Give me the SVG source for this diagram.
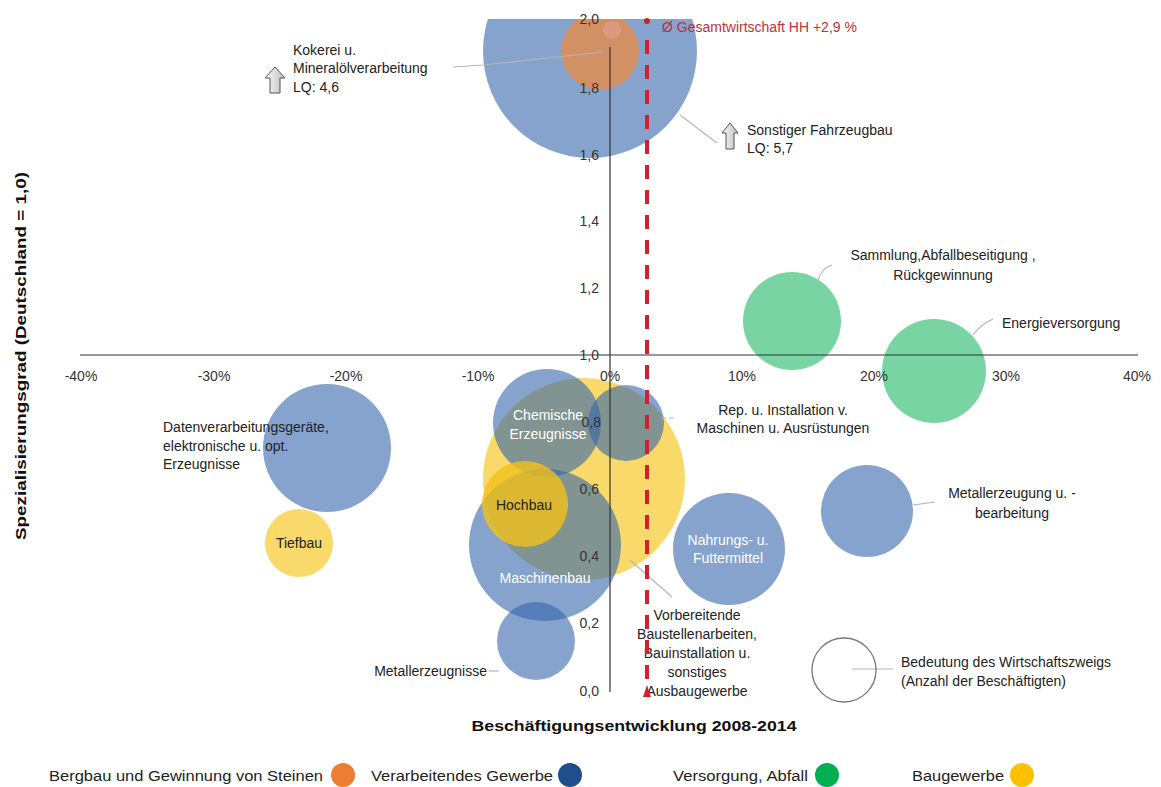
<svg xmlns="http://www.w3.org/2000/svg" width="1161" height="787" viewBox="0 0 1161 787">
  <style>
    text { font-family: "Liberation Sans", Arial, sans-serif; fill: #222; }
    .lbl { font-size: 14px; }
    .tick { font-size: 14px; fill: #333; }
    .in-w { font-size: 14px; fill: #fff; }
    .title { font-size: 15px; font-weight: bold; fill: #111; }
    .blue { fill: #3466ab; fill-opacity: 0.6; }
    .yellow { fill: #f5c518; fill-opacity: 0.65; }
    .gold { fill: #f2c01a; fill-opacity: 0.8; }
    .green { fill: #2fbf71; fill-opacity: 0.65; }
    .orange { fill: #f08a3c; fill-opacity: 0.72; }
    .lead { stroke: #b5b5b5; stroke-width: 1.2; fill: none; }
    .axis { stroke: #333; stroke-width: 1.2; }
    .lq { fill: url(#arrowGrad); stroke: #555; stroke-width: 1; }
  </style>
  <defs>
    <clipPath id="plotClip">
      <rect x="0" y="19" width="1161" height="700"/>
    </clipPath>
    <linearGradient id="arrowGrad" x1="0" y1="0" x2="1" y2="0">
      <stop offset="0" stop-color="#fafafa"/>
      <stop offset="1" stop-color="#bdbdbd"/>
    </linearGradient>
  </defs>

  <rect width="1161" height="787" fill="#fff"/>

  <!-- bubbles: x = 610 + 13.2 * growth(%), y = 355 - 335 * (LQ - 1) -->
  <g id="bubbles" clip-path="url(#plotClip)">
    <g id="node-fahrzeugbau">
      <circle class="blue" cx="590" cy="51" r="107"/>
    </g>
    <g id="node-kokerei">
      <circle class="orange" cx="600" cy="51" r="39"/>
      <circle cx="612" cy="30" r="9" fill="#f2a0a0" fill-opacity="0.45"/>
    </g>
    <g id="node-baustellen">
      <circle class="yellow" cx="584" cy="479" r="101"/>
    </g>
    <g id="node-chemie">
      <circle class="blue" cx="547" cy="423" r="54"/>
      <text class="in-w" x="548" y="420" text-anchor="middle">Chemische</text>
      <text class="in-w" x="548" y="439" text-anchor="middle">Erzeugnisse</text>
    </g>
    <g id="node-reparatur">
      <circle class="blue" cx="626" cy="423" r="38"/>
    </g>
    <g id="node-maschinenbau">
      <circle class="blue" cx="545" cy="545" r="76"/>
      <text class="in-w" x="545" y="583" text-anchor="middle">Maschinenbau</text>
    </g>
    <g id="node-hochbau">
      <circle class="gold" cx="525" cy="504" r="43"/>
      <text class="lbl" x="524" y="510" text-anchor="middle">Hochbau</text>
    </g>
    <g id="node-metallerzeugnisse">
      <circle class="blue" cx="536" cy="641" r="39"/>
    </g>
    <g id="node-datenverarbeitung">
      <circle class="blue" cx="327" cy="448" r="64"/>
    </g>
    <g id="node-tiefbau">
      <circle class="yellow" cx="299" cy="543" r="34"/>
      <text class="lbl" x="299" y="548" text-anchor="middle">Tiefbau</text>
    </g>
    <g id="node-nahrung">
      <circle class="blue" cx="729" cy="549" r="56"/>
      <text class="in-w" x="728" y="545" text-anchor="middle">Nahrungs- u.</text>
      <text class="in-w" x="728" y="563" text-anchor="middle">Futtermittel</text>
    </g>
    <g id="node-metallerzeugung">
      <circle class="blue" cx="867" cy="511" r="46"/>
    </g>
    <g id="node-sammlung">
      <circle class="green" cx="792" cy="321" r="49"/>
    </g>
    <g id="node-energie">
      <circle class="green" cx="934" cy="371" r="52"/>
    </g>
  </g>

  <!-- axes and tick labels -->
  <g id="axes">
    <line class="axis" x1="80" y1="355" x2="1138" y2="355"/>
    <line class="axis" x1="610" y1="47" x2="610" y2="692"/>
    <g text-anchor="end">
      <text class="tick" x="599" y="24">2,0</text>
      <text class="tick" x="599" y="93">1,8</text>
      <text class="tick" x="599" y="160">1,6</text>
      <text class="tick" x="599" y="226">1,4</text>
      <text class="tick" x="599" y="293">1,2</text>
      <text class="tick" x="599" y="360">1,0</text>
      <text class="tick" x="601" y="427">0,8</text>
      <text class="tick" x="599" y="494">0,6</text>
      <text class="tick" x="599" y="561">0,4</text>
      <text class="tick" x="599" y="628">0,2</text>
      <text class="tick" x="599" y="696">0,0</text>
    </g>
    <g text-anchor="middle">
      <text class="tick" x="81" y="381">-40%</text>
      <text class="tick" x="214" y="381">-30%</text>
      <text class="tick" x="346" y="381">-20%</text>
      <text class="tick" x="478" y="381">-10%</text>
      <text class="tick" x="610" y="381">0%</text>
      <text class="tick" x="742" y="381">10%</text>
      <text class="tick" x="874" y="381">20%</text>
      <text class="tick" x="1006" y="381">30%</text>
      <text class="tick" x="1137" y="381">40%</text>
    </g>
    <text class="title" x="634" y="731" text-anchor="middle" textLength="325" lengthAdjust="spacingAndGlyphs">Beschäftigungsentwicklung  2008-2014</text>
    <text class="title" transform="translate(26,356) rotate(-90)" text-anchor="middle" textLength="368" lengthAdjust="spacingAndGlyphs">Spezialisierungsgrad  (Deutschland = 1,0)</text>
  </g>

  <!-- leader lines from bubbles to their labels -->
  <g id="connectors">
    <polyline class="lead" points="453,67 483,65 603,52"/>
    <line class="lead" x1="680" y1="115" x2="717" y2="143"/>
    <path class="lead" d="M832,265 Q822,268 818,280"/>
    <path class="lead" d="M993,319 Q980,325 973,335"/>
    <line class="lead" x1="661" y1="418" x2="677" y2="418" stroke-dasharray="5 3"/>
    <line class="lead" x1="630" y1="560" x2="672" y2="597"/>
    <line class="lead" x1="489" y1="671" x2="499" y2="671"/>
    <line class="lead" x1="913" y1="505" x2="935" y2="502"/>
    <line class="lead" x1="852" y1="669" x2="893" y2="669"/>
  </g>

  <!-- text labels placed outside bubbles -->
  <g id="labels">
    <g id="label-kokerei">
      <path class="lq" d="M275,67 L285,78 L280,78 L280,93 L270,93 L270,78 L265,78 Z"/>
      <text class="lbl" x="293" y="55">Kokerei u.</text>
      <text class="lbl" x="293" y="73">Mineralölverarbeitung</text>
      <text class="lbl" x="293" y="92">LQ: 4,6</text>
    </g>
    <g id="label-fahrzeugbau">
      <path class="lq" d="M730,123 L738,133 L734,133 L734,149 L726,149 L726,133 L722,133 Z"/>
      <text class="lbl" x="747" y="135">Sonstiger Fahrzeugbau</text>
      <text class="lbl" x="747" y="153">LQ: 5,7</text>
    </g>
    <g id="label-sammlung" text-anchor="middle">
      <text class="lbl" x="943" y="260">Sammlung,Abfallbeseitigung ,</text>
      <text class="lbl" x="943" y="280">Rückgewinnung</text>
    </g>
    <text id="label-energie" class="lbl" x="1002" y="328">Energieversorgung</text>
    <g id="label-datenverarbeitung">
      <text class="lbl" x="163" y="432">Datenverarbeitungsgeräte,</text>
      <text class="lbl" x="163" y="451">elektronische u. opt.</text>
      <text class="lbl" x="163" y="469">Erzeugnisse</text>
    </g>
    <g id="label-reparatur" text-anchor="middle">
      <text class="lbl" x="783" y="415">Rep. u. Installation v.</text>
      <text class="lbl" x="783" y="433">Maschinen u. Ausrüstungen</text>
    </g>
    <g id="label-metallerzeugung" text-anchor="middle">
      <text class="lbl" x="1012" y="498">Metallerzeugung u. -</text>
      <text class="lbl" x="1012" y="518">bearbeitung</text>
    </g>
    <text id="label-metallerzeugnisse" class="lbl" x="487" y="676" text-anchor="end">Metallerzeugnisse</text>
    <g id="label-baustellen" text-anchor="middle">
      <text class="lbl" x="697" y="620">Vorbereitende</text>
      <text class="lbl" x="697" y="639">Baustellenarbeiten,</text>
      <text class="lbl" x="697" y="658">Bauinstallation u.</text>
      <text class="lbl" x="697" y="677">sonstiges</text>
      <text class="lbl" x="697" y="696">Ausbaugewerbe</text>
    </g>
    <g id="size-key">
      <circle cx="844" cy="670" r="32" fill="none" stroke="#777" stroke-width="1.3"/>
      <text class="lbl" x="901" y="667">Bedeutung des Wirtschaftszweigs</text>
      <text class="lbl" x="901" y="686">(Anzahl der Beschäftigten)</text>
    </g>
  </g>

  <!-- Hamburg average employment growth -->
  <g id="average-line">
    <line x1="647" y1="40" x2="647" y2="686" stroke="#d2202c" stroke-width="4" stroke-dasharray="14 11"/>
    <circle cx="647" cy="21" r="3" fill="#c0282f"/>
    <path d="M643,697 L647,685 L651,697 Z" fill="#d2202c"/>
    <text x="662" y="32" font-size="14" style="fill:#c0303a">Ø Gesamtwirtschaft  HH +2,9 %</text>
  </g>

  <!-- legend of sectors -->
  <g id="legend">
    <text class="lbl" x="49" y="781" textLength="274" lengthAdjust="spacingAndGlyphs">Bergbau und Gewinnung von Steinen</text>
    <ellipse cx="343" cy="775" rx="12" ry="12" fill="#ed7d31"/>
    <text class="lbl" x="371" y="781" textLength="182" lengthAdjust="spacingAndGlyphs">Verarbeitendes Gewerbe</text>
    <ellipse cx="570" cy="775" rx="12" ry="12" fill="#1f4e8c"/>
    <text class="lbl" x="673" y="781" textLength="135" lengthAdjust="spacingAndGlyphs">Versorgung, Abfall</text>
    <ellipse cx="827" cy="775" rx="12" ry="12" fill="#00b050"/>
    <text class="lbl" x="912" y="781" textLength="92" lengthAdjust="spacingAndGlyphs">Baugewerbe</text>
    <ellipse cx="1022" cy="775" rx="12" ry="12" fill="#ffc000"/>
  </g>
</svg>
